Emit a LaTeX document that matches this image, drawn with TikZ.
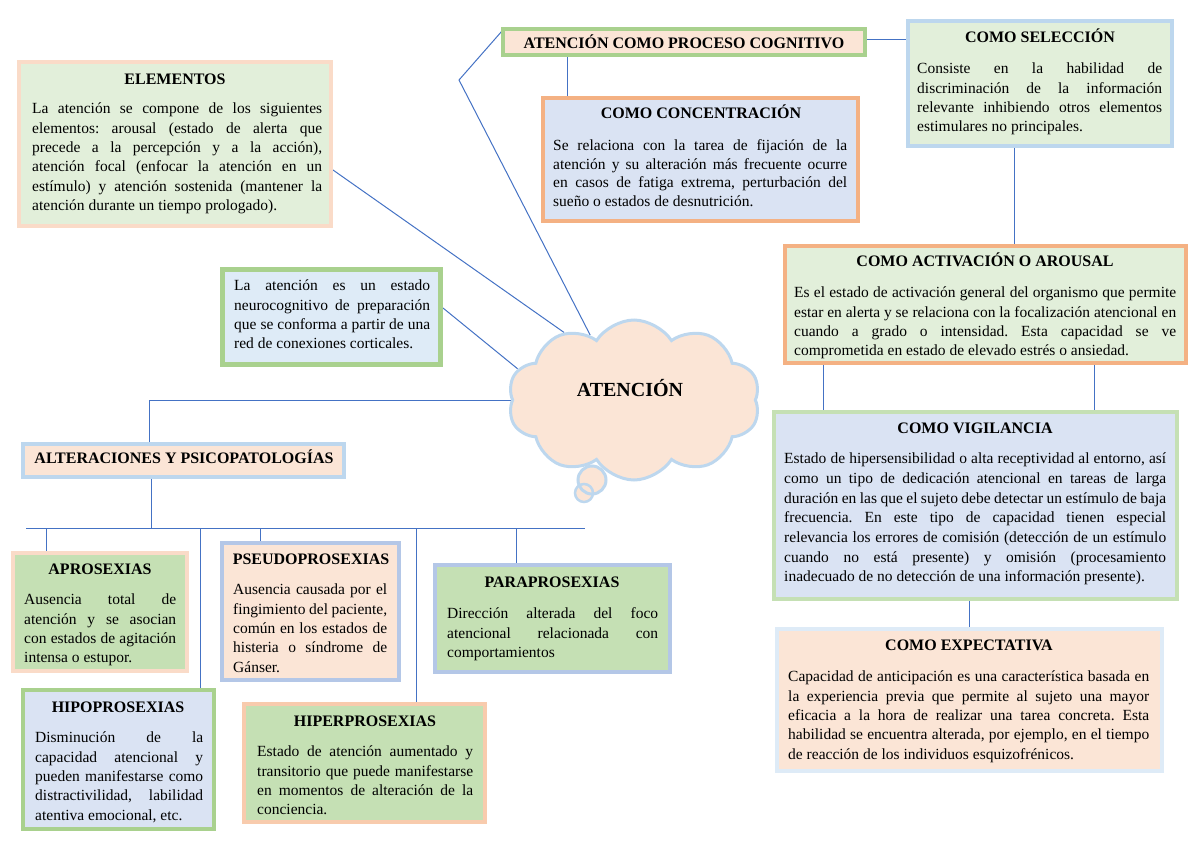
\documentclass[tikz,border=0pt]{standalone}
\usepackage{fontspec}
\setmainfont{Liberation Serif}
\usetikzlibrary{shapes.symbols}
\pgfdeclarelayer{bg}
\pgfsetlayers{bg,main}
\definecolor{peach}{HTML}{FBE5D6}
\definecolor{lgreen}{HTML}{E2EFDA}
\definecolor{mgreen}{HTML}{C5E0B4}
\definecolor{lblue}{HTML}{DAE3F3}
\definecolor{pblue}{HTML}{DEEBF7}
\definecolor{bgreen}{HTML}{A9D18E}
\definecolor{bgreenl}{HTML}{C5E0B4}
\definecolor{bpeach}{HTML}{F4B183}
\definecolor{bpeachl}{HTML}{F8CBAD}
\definecolor{bpeachxl}{HTML}{FADBC8}
\definecolor{bblue}{HTML}{BDD7EE}
\definecolor{bbluel}{HTML}{DEEBF7}
\definecolor{bbluem}{HTML}{B4C7E7}
\definecolor{conn}{HTML}{4472C4}
\frenchspacing
\newcommand{\bodyfnt}{\fontsize{15.5}{19.4}\selectfont\frenchspacing\hyphenpenalty=10000\exhyphenpenalty=10000\tolerance=10000}
\begin{document}
\begin{tikzpicture}[x=1pt,y=-1pt,
  bx/.style 2 args={rectangle, inner sep=0pt, minimum width=#1, minimum height=#2, line width=4pt},
  ttl/.style={anchor=base, inner sep=0pt, font=\fontsize{16}{19.4}\selectfont\bfseries},
  body/.style={anchor=north west, inner sep=0pt, align=justify, font=\bodyfnt},
  cn/.style={draw=conn, line width=1pt}]
\useasboundingbox (0,0) rectangle (1200,849);

% ---------- boxes ----------
\node[bx={362pt}{26pt}, draw=bgreen, fill=peach] (proc) at (684,42) {};
\node[bx={315pt}{123pt}, draw=bpeach, fill=lblue] (conc) at (700.5,159.5) {};
\node[bx={264pt}{125pt}, draw=bblue, fill=lgreen] (sel) at (1040,83.5) {};
\node[bx={401pt}{117pt}, draw=bpeach, fill=lgreen] (act) at (985.5,304.5) {};
\node[bx={403pt}{187pt}, draw=bgreenl, fill=lblue] (vig) at (975.5,505.5) {};
\node[bx={385pt}{142pt}, draw=bbluel, fill=peach] (exp) at (969.5,700) {};
\node[bx={312pt}{164pt}, draw=bpeachxl, fill=lgreen] (elem) at (175,144) {};
\node[bx={218pt}{95pt}, draw=bgreen, fill=pblue, line width=5pt] (intro) at (331.5,317) {};
\node[bx={321pt}{33pt}, draw=bblue, fill=peach] (alt) at (183.5,460.5) {};
\node[bx={174pt}{118pt}, draw=bpeachxl, fill=mgreen] (apro) at (100,612) {};
\node[bx={177pt}{137pt}, draw=bbluem, fill=peach] (pseudo) at (310.5,611.5) {};
\node[bx={235pt}{107pt}, draw=bbluem, fill=mgreen] (para) at (552.5,618.5) {};
\node[bx={191pt}{139pt}, draw=bgreen, fill=lblue] (hipo) at (118.5,759.5) {};
\node[bx={241pt}{118pt}, draw=bpeachl, fill=mgreen] (hiper) at (364.5,763) {};

% ---------- cloud ----------
\fill[peach] (592,480) circle (14);
\fill[peach] (584,493) circle (9);
\draw[bblue, line width=3pt] (592,480) circle (14);
\draw[bblue, line width=2.5pt] (584,493) circle (9);
\node[cloud, cloud puffs=10, cloud puff arc=115, aspect=1.6, minimum width=252pt, minimum height=160pt, draw=bblue, line width=3pt, fill=peach, inner sep=0pt] (cloud) at (634,400) {};
\node[anchor=base, inner sep=0pt, font=\fontsize{20}{22}\selectfont\bfseries] (cloudT) at (630,396) {ATENCIÓN};

% ---------- connectors ----------
\coordinate (bend) at (459,80);
\coordinate (busL) at (26,528);
\coordinate (busR) at (585,528);
\begin{pgfonlayer}{bg}
\draw[cn] ([yshift=3pt]proc.east) -- ([yshift=3pt]proc.east -| sel.west);
\draw[cn] ([xshift=66pt]proc.south west) -- ([xshift=66pt]proc.south west |- conc.north);
\draw[cn] ([xshift=108pt]sel.south west) -- ([xshift=108pt]sel.south west |- act.north);
\draw[cn] ([xshift=40pt]act.south west) -- ([xshift=40pt]act.south west |- vig.north);
\draw[cn] ([xshift=311pt]act.south west) -- ([xshift=311pt]act.south west |- vig.north);
\draw[cn] (exp.north |- vig.south) -- (exp.north);
\draw[cn] ([yshift=-26pt]elem.east) -- (cloud.136);
\draw[cn] (cloud.124) -- (bend) -- ([xshift=1pt,yshift=-4pt]proc.north west);
\draw[cn] ([yshift=9pt]intro.east) -- (cloud.165);
\draw[cn] ([xshift=8pt]cloud.west) -| ([xshift=128pt]alt.north west);
\draw[cn] ([xshift=130pt]alt.south west) -- ([xshift=130pt]alt.south west |- busL);
\draw[cn] (busL) -- (busR);
\draw[cn] ([xshift=35pt]apro.north west |- busL) -- ([xshift=35pt]apro.north west);
\draw[cn] ([xshift=179pt]hipo.north west |- busL) -- ([xshift=179pt]hipo.north west);
\draw[cn] ([xshift=40pt]pseudo.north west |- busL) -- ([xshift=40pt]pseudo.north west);
\draw[cn] ([xshift=174pt]hiper.north west |- busL) -- ([xshift=174pt]hiper.north west);
\draw[cn] ([xshift=83pt]para.north west |- busL) -- ([xshift=83pt]para.north west);
\end{pgfonlayer}

% ---------- texts ----------
\node[ttl] (procT) at (684,48) {ATENCIÓN COMO PROCESO COGNITIVO};

\node[ttl] (concT) at (701,118) {COMO CONCENTRACIÓN};
\node[body, text width=294pt, font=\bodyfnt\fontsize{15.5}{18.8}\selectfont] (concB) at (553,137) {\strut Se relaciona con la tarea de fijación de la\linebreak atención y su alteración más frecuente ocurre\linebreak en casos de fatiga extrema, perturbación del\linebreak sueño o estados de desnutrición.};

\node[ttl] (selT) at (1040,42) {COMO SELECCIÓN};
\node[body, text width=245pt] (selB) at (917,60) {\strut Consiste en la habilidad de\linebreak discriminación de la información\linebreak relevante inhibiendo otros elementos\linebreak estimulares no principales.};

\node[ttl] (actT) at (985,266) {COMO ACTIVACIÓN O AROUSAL};
\node[body, text width=382pt] (actB) at (794,284) {\strut Es el estado de activación general del organismo que permite\linebreak estar en alerta y se relaciona con la focalización atencional en\linebreak cuando a grado o intensidad. Esta capacidad se ve\linebreak comprometida en estado de elevado estrés o ansiedad.};

\node[ttl] (vigT) at (975,433) {COMO VIGILANCIA};
\node[body, text width=382pt, font=\bodyfnt\fontsize{15.5}{19.65}\selectfont] (vigB) at (784,450) {\strut Estado de hipersensibilidad o alta receptividad al entorno, así\linebreak como un tipo de dedicación atencional en tareas de larga\linebreak duración en las que el sujeto debe detectar un estímulo de baja\linebreak frecuencia. En este tipo de capacidad tienen especial\linebreak relevancia los errores de comisión (detección de un estímulo\linebreak cuando no está presente) y omisión (procesamiento\linebreak inadecuado de no detección de una información presente).};

\node[ttl] (expT) at (969,650) {COMO EXPECTATIVA};
\node[body, text width=361pt] (expB) at (788,668) {\strut Capacidad de anticipación es una característica basada en\linebreak la experiencia previa que permite al sujeto una mayor\linebreak eficacia a la hora de realizar una tarea concreta. Esta\linebreak habilidad se encuentra alterada, por ejemplo, en el tiempo\linebreak de reacción de los individuos esquizofrénicos.};

\node[ttl] (elemT) at (175,84) {ELEMENTOS};
\node[body, text width=290pt] (elemB) at (32,100) {\strut La atención se compone de los siguientes\linebreak elementos: arousal (estado de alerta que\linebreak precede a la percepción y a la acción),\linebreak atención focal (enfocar la atención en un\linebreak estímulo) y atención sostenida (mantener la\linebreak atención durante un tiempo prologado).};

\node[body, text width=196pt] (introB) at (234,277) {\strut La atención es un estado\linebreak neurocognitivo de preparación\linebreak que se conforma a partir de una\linebreak red de conexiones corticales.};

\node[ttl] (altT) at (184,463) {ALTERACIONES Y PSICOPATOLOGÍAS};

\node[ttl] (aproT) at (100,574) {APROSEXIAS};
\node[body, text width=152pt] (aproB) at (24,591) {\strut Ausencia total de\linebreak atención y se asocian\linebreak con estados de agitación\linebreak intensa o estupor.};

\node[ttl] (pseudoT) at (311,564) {PSEUDOPROSEXIAS};
\node[body, text width=154pt] (pseudoB) at (233,581) {\strut Ausencia causada por el\linebreak fingimiento del paciente,\linebreak común en los estados de\linebreak histeria o síndrome de\linebreak Gánser.};

\node[ttl] (paraT) at (552,587) {PARAPROSEXIAS};
\node[body, text width=211pt] (paraB) at (447,605) {\strut Dirección alterada del foco\linebreak atencional relacionada con\linebreak comportamientos};

\node[ttl] (hipoT) at (118,712) {HIPOPROSEXIAS};
\node[body, text width=168pt] (hipoB) at (35,729) {\strut Disminución de la\linebreak capacidad atencional y\linebreak pueden manifestarse como\linebreak distractivilidad, labilidad\linebreak atentiva emocional, etc.};

\node[ttl] (hiperT) at (365,726) {HIPERPROSEXIAS};
\node[body, text width=216pt] (hiperB) at (257,743) {\strut Estado de atención aumentado y\linebreak transitorio que puede manifestarse\linebreak en momentos de alteración de la\linebreak conciencia.};
\end{tikzpicture}
\end{document}
